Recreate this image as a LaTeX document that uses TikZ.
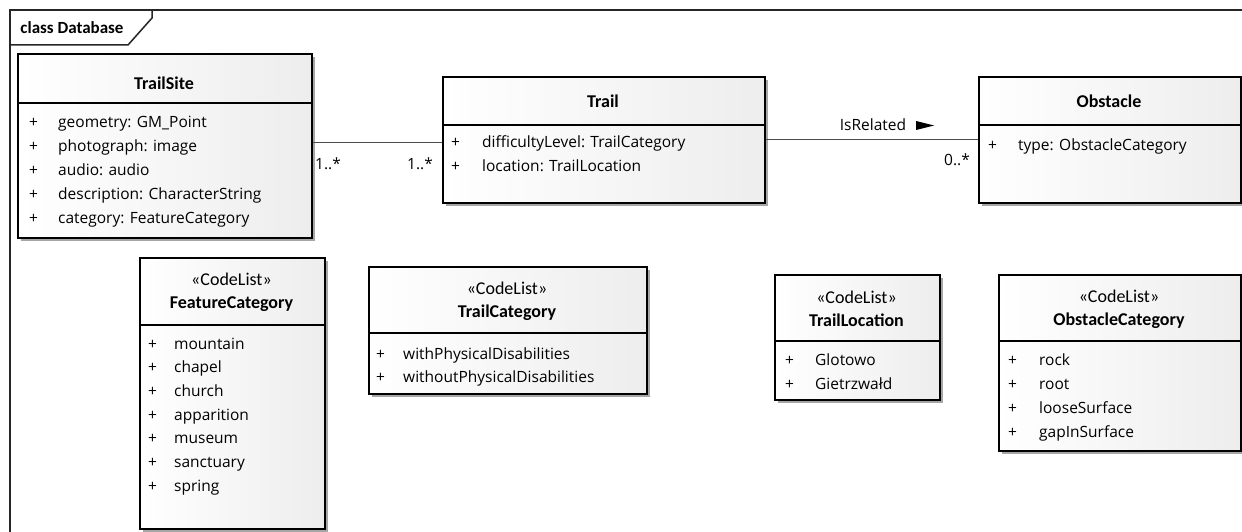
\documentclass[tikz,border=0pt]{standalone}
\usepackage{fontspec}
\setmainfont{Carlito}
\newfontfamily\attrfont{Open Sans}
\usetikzlibrary{shadows}
\newcommand{\attrrows}[2]{\begin{tabular}[t]{@{}p{#1pt}@{}l@{}}#2\end{tabular}}
\tikzset{
  cbox/.style={draw=black, line width=1.8pt, anchor=north west, inner sep=0pt,
    left color=white, right color=black!7,
    drop shadow={shadow xshift=3pt, shadow yshift=-3pt, fill=black!35, opacity=1}},
  sepline/.style={line width=1.6pt},
  ttl/.style={font=\fontsize{18}{23}\selectfont, inner sep=0pt, align=center},
  bttl/.style={font=\fontsize{18}{23}\selectfont\bfseries, inner sep=0pt, align=center},
  attrs/.style={font=\attrfont\fontsize{15.5}{24}\selectfont, inner sep=0pt, anchor=base west},
  mult/.style={font=\attrfont\fontsize{15.5}{18}\selectfont, inner sep=0pt},
  assoc/.style={line width=1.1pt, draw=black!70},
  frameline/.style={line width=1.5pt, draw=black!85},
}
\begin{document}
\begin{tikzpicture}[x=1pt,y=-1pt]
\useasboundingbox (0,0) rectangle (1242,532);
\fill[white] (0,0) rectangle (1242,532);
% frame
\draw[frameline] (1242,10) -- (10,10) -- (10,532);
\draw[frameline] (10,45) -- (128,45) -- (152,18) -- (152,10);
\node[bttl, font=\fontsize{17}{20}\selectfont\bfseries] (framelabel) at (72,28) {class Database};

% TrailSite
\node[cbox, minimum width=294pt, minimum height=184pt] (trailsite) at (17,53) {};
\draw[sepline] (17,103) -- (311,103);
\node[bttl] (trailsiteT) at (164,83) {TrailSite};
\node[attrs] (trailsiteA) at (29,128) {\attrrows{29}{+ & geometry: GM\_Point\\ + & photograph: image\\ + & audio: audio\\ + & description: CharacterString\\ + & category: FeatureCategory}};

% Trail
\node[cbox, minimum width=322pt, minimum height=126pt] (trail) at (442,76) {};
\draw[sepline] (442,125) -- (764,125);
\node[bttl] (trailT) at (603,101) {Trail};
\node[attrs] (trailA) at (451,148) {\attrrows{31}{+ & difficultyLevel: TrailCategory\\ + & location: TrailLocation}};

% Obstacle
\node[cbox, minimum width=262pt, minimum height=126pt] (obstacle) at (978,76) {};
\draw[sepline] (978,125) -- (1240,125);
\node[bttl] (obstacleT) at (1109,101) {Obstacle};
\node[attrs] (obstacleA) at (988,150) {\attrrows{30}{+ & type: ObstacleCategory}};

% FeatureCategory
\node[cbox, minimum width=185pt, minimum height=271pt] (featurecat) at (139,257) {};
\draw[sepline] (139,325) -- (324,325);
\node[ttl] (featurecatT) at (231.5,292.5) {«CodeList»\\\textbf{FeatureCategory}};
\node[attrs, font=\attrfont\fontsize{15.5}{23.7}\selectfont] (featurecatA) at (148,349) {\attrrows{26}{+ & mountain\\ + & chapel\\ + & church\\ + & apparition\\ + & museum\\ + & sanctuary\\ + & spring}};

% TrailCategory
\node[cbox, minimum width=278pt, minimum height=127pt] (trailcat) at (368,266) {};
\draw[sepline] (368,333) -- (646,333);
\node[ttl] (trailcatT) at (507,301) {«CodeList»\\\textbf{TrailCategory}};
\node[attrs, font=\attrfont\fontsize{15.5}{23}\selectfont] (trailcatA) at (376,359) {\attrrows{27}{+ & withPhysicalDisabilities\\ + & withoutPhysicalDisabilities}};

% TrailLocation
\node[cbox, minimum width=165pt, minimum height=125pt] (trailloc) at (774,274) {};
\draw[sepline] (774,341) -- (939,341);
\node[ttl] (traillocT) at (856.5,309) {«CodeList»\\\textbf{TrailLocation}};
\node[attrs] (traillocA) at (785,365) {\attrrows{30}{+ & Glotowo\\ + & Gietrzwałd}};

% ObstacleCategory
\node[cbox, minimum width=242pt, minimum height=176pt] (obstcat) at (998,274) {};
\draw[sepline] (998,341) -- (1240,341);
\node[ttl] (obstcatT) at (1119,309) {«CodeList»\\\textbf{ObstacleCategory}};
\node[attrs] (obstcatA) at (1008,365) {\attrrows{31}{+ & rock\\ + & root\\ + & looseSurface\\ + & gapInSurface}};

% associations
\draw[assoc] ([yshift=3pt]trailsite.east) -- ([yshift=3pt]trailsite.east -| trail.west);
\draw[assoc] (trail.east) -- (obstacle.west);
\node[mult] (m1) at (328,164) {1..*};
\node[mult] (m2) at (420,164) {1..*};
\node[mult] (m3) at (957,160) {0..*};
\node[mult] (isrel) at (873,125) {IsRelated};
\fill (916,121) -- (934,125.5) -- (916,130) -- cycle;
\end{tikzpicture}
\end{document}
